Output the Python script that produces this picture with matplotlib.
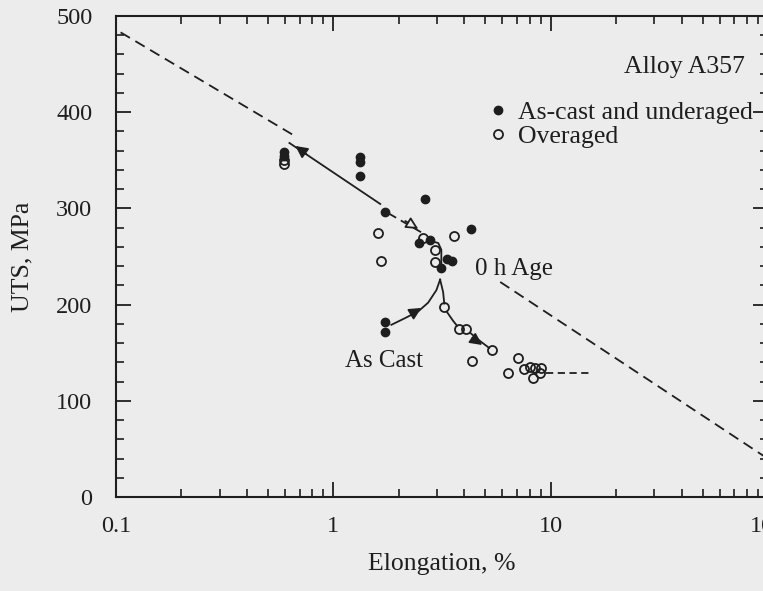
import matplotlib.pyplot as plt
from matplotlib.ticker import MultipleLocator, LogLocator, NullFormatter, FuncFormatter

plt.rcParams['font.family'] = ['Liberation Serif', 'DejaVu Serif']

ink = '#1e1e1e'
paper = '#ececec'

# As-cast and underaged specimens (filled)
cast_elong = [0.595, 0.595, 1.32, 1.32, 1.32, 1.735, 2.65, 4.31, 2.79, 2.49,
              3.34, 3.53, 3.14, 1.735, 1.735]
cast_uts = [358.6, 354.5, 353.4, 348.2, 333.7, 296.3, 309.8, 278.6, 267.2, 264.0,
            247.4, 245.3, 238.0, 181.9, 171.5]

# Overaged specimens (open)
over_elong = [0.595, 0.595, 1.61, 1.66, 2.59, 3.60, 2.94, 2.94, 3.24, 3.80, 4.09,
              5.38, 4.36, 6.38, 7.09, 7.55, 8.05, 8.49, 9.04, 8.31, 8.95]
over_uts = [350.3, 346.2, 274.4, 245.3, 269.2, 271.3, 256.8, 244.3, 197.5, 174.6, 174.6,
            152.8, 141.4, 128.9, 144.5, 133.1, 135.1, 134.1, 134.1, 123.7, 128.9]

# quality index lines (slope 150 per decade)
q_upper_elong = [0.105, 0.68]
q_upper_uts = [483, 374]
q_lower_elong = [5.86, 98]
q_lower_uts = [223.5, 41]

# ageing paths
age_solid_elong = [0.628, 1.644]
age_solid_uts = [368, 304.6]
age_dash_elong = [1.79, 2.59]
age_dash_uts = [295, 274]
hook_elong = [2.82, 3.04, 3.14, 3.14]
hook_uts = [266, 264, 257, 239]
cast_branch_elong = [3.10, 2.98, 2.73, 2.46, 2.14, 1.85]
cast_branch_uts = [226, 215, 202, 193, 186, 179]
over_branch_elong = [3.10, 3.20, 3.24]
over_branch_uts = [226, 213, 201]
over_mid_elong = [3.34, 3.56, 3.71]
over_mid_uts = [192, 183, 178]
over_end_elong = [4.27, 4.74, 5.21]
over_end_uts = [170.5, 162, 155]
flat_elong = [9.53, 15.2]
flat_uts = [129, 129]

# arrowheads (tail, tip)
arrows = [
    ((0.751, 356.6), (0.669, 364.9), 'filled'),
    ((2.143, 286.9), (2.46, 278.6), 'open'),
    ((2.283, 190.2), (2.54, 196.5), 'filled'),
    ((4.36, 165.3), (4.84, 158.0), 'filled'),
]

fig = plt.figure(figsize=(7.63, 5.91), dpi=100, facecolor=paper)
ax = fig.add_axes([116 / 763, 94 / 591, 652 / 763, 481 / 591])
ax.set_facecolor(paper)

lw = 1.3
ax.plot(q_upper_elong, q_upper_uts, color=ink, lw=lw, ls=(0, (6, 3.5)))
ax.plot(q_lower_elong, q_lower_uts, color=ink, lw=lw, ls=(0, (6, 3.5)))
ax.plot(flat_elong, flat_uts, color=ink, lw=lw, ls=(0, (4, 2.5)))
ax.plot(age_solid_elong, age_solid_uts, color=ink, lw=lw)
ax.plot(age_dash_elong, age_dash_uts, color=ink, lw=lw, ls=(0, (5, 3)))
for xs, ys in [(hook_elong, hook_uts), (cast_branch_elong, cast_branch_uts),
               (over_branch_elong, over_branch_uts), (over_mid_elong, over_mid_uts),
               (over_end_elong, over_end_uts)]:
    ax.plot(xs, ys, color=ink, lw=lw)

for tail, tip, kind in arrows:
    fc = ink if kind == 'filled' else paper
    ax.annotate('', xy=tip, xytext=tail,
                arrowprops=dict(arrowstyle='-|>', mutation_scale=18, lw=lw,
                                ec=ink, fc=fc, shrinkA=0, shrinkB=0))

ax.plot(cast_elong, cast_uts, 'o', ms=6, color=ink, mec=ink, ls='none',
        label='As-cast and underaged')
ax.plot(over_elong, over_uts, 'o', ms=6.5, mfc='none', mec=ink, mew=1.3, ls='none',
        label='Overaged')

ax.text(4.5, 230.8, '0 h Age', fontsize=18, color=ink, va='baseline', ha='left')
ax.text(1.135, 135, 'As Cast', fontsize=18, color=ink, va='baseline', ha='left')
ax.text(0.965, 0.8815, 'Alloy A357', fontsize=18.5, color=ink, va='baseline',
        ha='right', transform=ax.transAxes)

ax.legend(loc='upper left', bbox_to_anchor=(0.570, 0.823), frameon=False,
          fontsize=18.5, handlelength=0.8, handletextpad=0.38, labelspacing=0.02,
          borderpad=0, borderaxespad=0, labelcolor=ink)

ax.set_xscale('log')
ax.set_xlim(0.1, 100)
ax.set_ylim(0, 500)
ax.xaxis.set_major_locator(LogLocator(base=10))
ax.xaxis.set_minor_locator(LogLocator(base=10, subs=range(2, 10)))
ax.xaxis.set_minor_formatter(NullFormatter())
ax.xaxis.set_major_formatter(FuncFormatter(lambda v, p: '%g' % v))
ax.yaxis.set_major_locator(MultipleLocator(100))
ax.yaxis.set_minor_locator(MultipleLocator(20))

ax.tick_params(which='both', direction='in', top=True, right=True, color=ink,
               labelcolor=ink, labelsize=17.5)
ax.tick_params(which='major', length=11, width=1.3)
ax.tick_params(which='minor', length=6, width=1.2)
ax.tick_params(axis='y', pad=17)
ax.tick_params(axis='x', pad=14)
for s in ax.spines.values():
    s.set_linewidth(1.5)
    s.set_color(ink)

ax.set_xlabel('Elongation, %', fontsize=18.5, color=ink, labelpad=11)
ax.set_ylabel('UTS, MPa', fontsize=18.5, color=ink, labelpad=16)

fig.savefig('out.png', dpi=100, facecolor=paper)
